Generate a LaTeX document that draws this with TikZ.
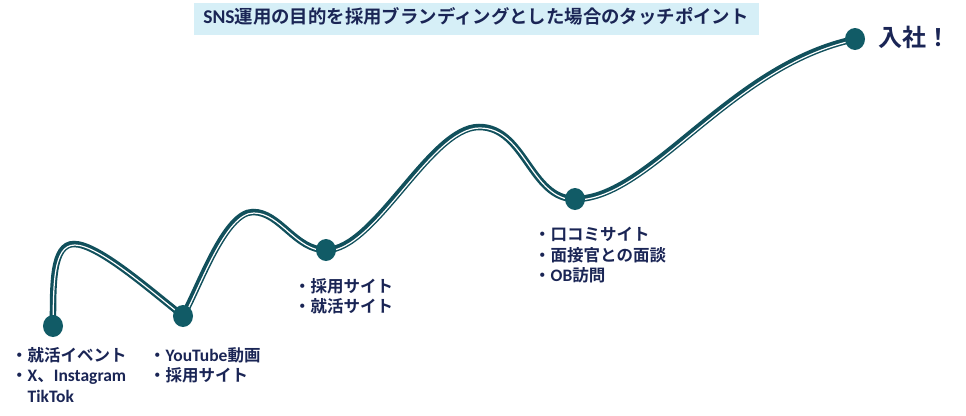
\documentclass[tikz,border=0pt]{standalone}
\usepackage{fontspec}
\usetikzlibrary{shapes.geometric}
\setmainfont{Noto Sans CJK JP}[BoldFont={Noto Sans CJK JP Bold}]
\newfontfamily\latinpart{Carlito}[Scale=1.06]
\newcommand{\lat}[1]{{\latinpart\bfseries #1}}
\definecolor{curveteal}{HTML}{11505C}
\definecolor{dotteal}{HTML}{115B66}
\definecolor{inkblue}{HTML}{1A2555}
\definecolor{bannerblue}{HTML}{D6EFF7}
\tikzset{
  dotnode/.style={ellipse,fill=dotteal,draw=none,minimum width=20pt,minimum height=22pt,inner sep=0pt},
  labelnode/.style={anchor=north west,inner sep=0pt,align=left,text=inkblue,font=\fontsize{16.5}{20.5}\selectfont\bfseries},
  routeouter/.style={draw=curveteal,line width=6.5pt,line cap=round},
  routeinner/.style={draw=white,line width=1.2pt,line cap=round,shift={(0.7pt,-1pt)}}
}
\newcommand{\routepath}{%
  (d1.center) .. controls (53,285) and (52,244) .. (74,244)
  .. controls (98,244) and (150,290) .. (183,316)
  .. controls (200,285) and (225,212) .. (253,212)
  .. controls (280,212) and (295,250) .. (326,250)
  .. controls (375,250) and (430,127) .. (479,127)
  .. controls (525,127) and (530,199) .. (575,199)
  .. controls (650,199) and (730,65) .. (855,39)}
\begin{document}
\begin{tikzpicture}[x=1pt,y=-1pt]
\useasboundingbox (0,0) rectangle (966,415);
\fill[bannerblue] (194,3) rectangle (759,35);
\node[anchor=center,inner sep=0pt,text=inkblue,font=\fontsize{18.4}{22}\selectfont\bfseries] (title) at (476,16) {\lat{SNS}運用の目的を採用ブランディングとした場合のタッチポイント};
\coordinate (d1) at (53,326);
\draw[routeouter] \routepath;
\draw[routeinner] \routepath;
\node[dotnode] (d1) at (53,326) {};
\node[dotnode] (d2) at (183,316) {};
\node[dotnode] (d3) at (326,250) {};
\node[dotnode] (d4) at (575,199) {};
\node[dotnode] (d5) at (855,39) {};
\node[labelnode,font=\fontsize{24}{28}\selectfont\bfseries] (goal) at (878,26) {入社！};
\node[labelnode] (l1) at (11,347) {・就活イベント\\・\lat{X}、\lat{Instagram}\\\hspace*{16.5pt}\lat{TikTok}};
\node[labelnode] (l2) at (149,347) {・\lat{YouTube}動画\\・採用サイト};
\node[labelnode] (l3) at (294,278) {・採用サイト\\・就活サイト};
\node[labelnode] (l4) at (534,227) {・口コミサイト\\・面接官との面談\\・\lat{OB}訪問};
\end{tikzpicture}
\end{document}
